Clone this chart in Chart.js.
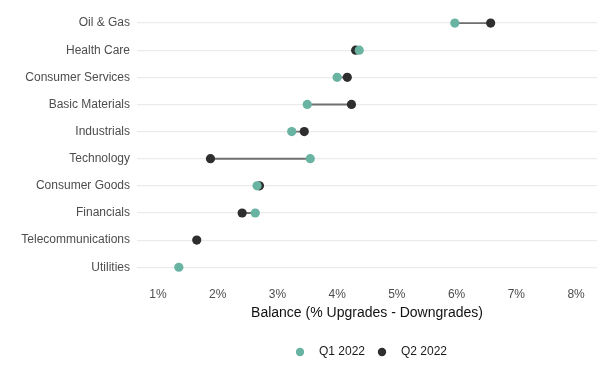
<!DOCTYPE html>
<html>
<head>
<meta charset="utf-8">
<script src="https://cdn.jsdelivr.net/npm/chart.js@4"></script>
<style>
html,body{margin:0;padding:0;background:#fff;}
#wrap{width:605px;height:378px;}
</style>
</head>
<body>
<div id="wrap"><canvas id="c" width="605" height="378"></canvas></div>
<script>
const categories = ["Oil & Gas","Health Care","Consumer Services","Basic Materials","Industrials","Technology","Consumer Goods","Financials","Telecommunications","Utilities"];
const q1_2022 = [5.97, 4.37, 4.00, 3.50, 3.24, 3.55, 2.66, 2.63, null, 1.35];
const q2_2022 = [6.57, 4.31, 4.17, 4.24, 3.45, 1.88, 2.70, 2.41, 1.65, null];
const xTicks = [1, 2, 3, 4, 5, 6, 7, 8];
const seriesNames = ["Q1 2022", "Q2 2022"];
const axisTitle = "Balance (% Upgrades - Downgrades)";

const connectors = categories.map((_, i) =>
  (q1_2022[i] != null && q2_2022[i] != null) ? [q1_2022[i], q2_2022[i]] : null);

const FONT = "'Liberation Sans', Arial, sans-serif";
const teal = "#69b3a2";
const dark = "#2e2e2e";

function makeDot(color) {
  const c = document.createElement('canvas');
  c.width = 10; c.height = 10;
  const g = c.getContext('2d');
  g.fillStyle = color;
  g.beginPath(); g.arc(5, 5, 4.2, 0, Math.PI * 2); g.fill();
  return c;
}

new Chart(document.getElementById('c'), {
  type: 'bar',
  data: {
    labels: categories,
    datasets: [
      {
        type: 'bar', label: 'range', data: connectors, indexAxis: 'y',
        backgroundColor: '#707070', borderWidth: 0, barThickness: 1.2, order: 3
      },
      {
        type: 'line', label: seriesNames[0], data: q1_2022, indexAxis: 'y', showLine: false,
        backgroundColor: teal, borderColor: teal, pointBackgroundColor: teal,
        pointBorderWidth: 0, pointRadius: 4.6, order: 1
      },
      {
        type: 'line', label: seriesNames[1], data: q2_2022, indexAxis: 'y', showLine: false,
        backgroundColor: dark, borderColor: dark, pointBackgroundColor: dark,
        pointBorderWidth: 0, pointRadius: 4.6, order: 2
      }
    ]
  },
  options: {
    indexAxis: 'y',
    responsive: false,
    animation: false,
    events: [],
    layout: { padding: { left: 0, right: 8, top: 9.5, bottom: 10 } },
    plugins: {
      tooltip: { enabled: false },
      legend: {
        position: 'bottom',
        fullSize: false,
        labels: {
          filter: item => item.datasetIndex !== 0,
          generateLabels: chart => {
            const items = Chart.defaults.plugins.legend.labels.generateLabels(chart);
            items.forEach(it => { it.pointStyle = makeDot(it.fillStyle); });
            return items;
          },
          usePointStyle: true,
          pointStyleWidth: 26,
          boxHeight: 8,
          padding: 4,
          color: '#1a1a1a',
          font: { family: FONT, size: 12 }
        }
      }
    },
    scales: {
      x: {
        type: 'linear',
        min: 0.65, max: 8.35,
        afterBuildTicks: s => { s.ticks = xTicks.map(v => ({ value: v })); },
        ticks: {
          callback: v => v + '%',
          color: '#4d4d4d',
          font: { family: FONT, size: 12 },
          padding: 6.5
        },
        grid: { display: false, drawTicks: false },
        border: { display: false },
        title: {
          display: true, text: axisTitle, color: '#111',
          font: { family: FONT, size: 14 },
          padding: { top: -3.5, bottom: 20.5 }
        }
      },
      y: {
        type: 'category',
        offset: true,
        afterFit: s => { s.width = 137; s.paddingTop = 0; s.paddingBottom = 0; },
        ticks: {
          color: '#4d4d4d',
          font: { family: FONT, size: 12 },
          padding: 7
        },
        grid: { color: '#ebebeb', lineWidth: 1.2, drawTicks: false, offset: false },
        border: { display: false }
      }
    }
  }
});
</script>
</body>
</html>
